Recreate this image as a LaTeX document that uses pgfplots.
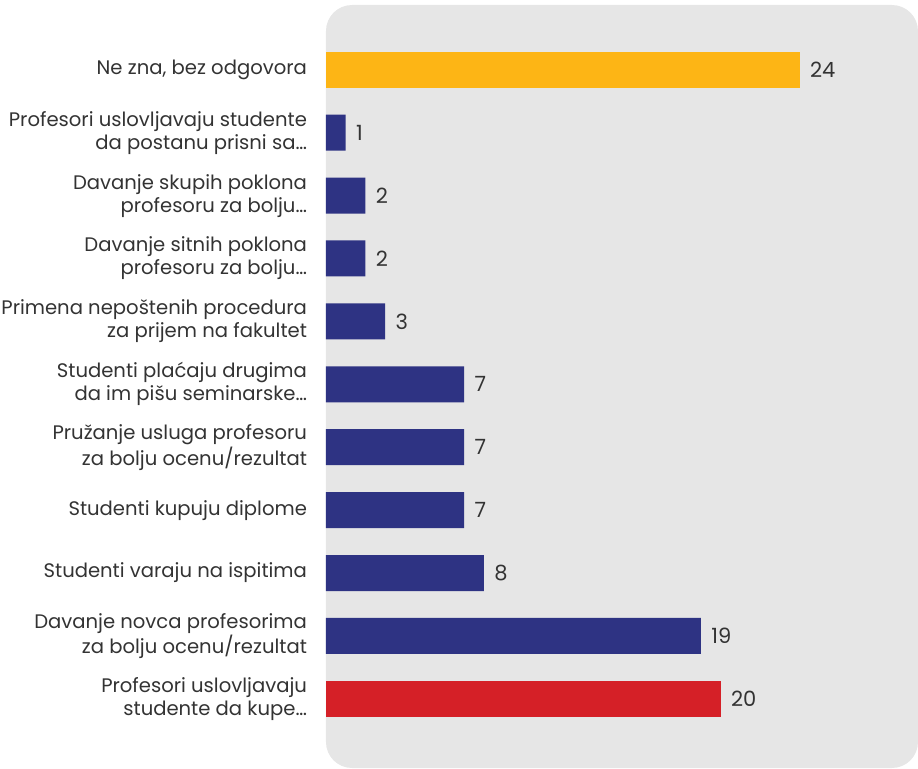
\documentclass[border=0pt]{standalone}
\usepackage{pgfplots}
\pgfplotsset{compat=1.18}
\usepackage{fontspec}
\setmainfont{Poppins}
\definecolor{bg}{HTML}{E6E6E6}
\definecolor{navy}{HTML}{2E3383}
\definecolor{yel}{HTML}{FDB515}
\definecolor{red1}{HTML}{D52027}
\definecolor{txt}{HTML}{333333}
\begin{document}
\begin{tikzpicture}
\path[use as bounding box] (-163pt,0pt) rectangle (296pt,384pt);
\begin{axis}[
  at={(0pt,0pt)}, anchor=south west,
  scale only axis,
  width=296pt, height=381.5pt,
  xbar, bar width=18pt, bar shift=0pt,
  xmin=0, xmax=30,
  ymin=-1.1, ymax=11.03,
  axis line style={draw=none},
  axis background/.style={fill=bg, rounded corners=13pt},
  xtick=\empty,
  ytick={0,1,2,3,4,5,6,7,8,9,10},
  yticklabels={
    {Profesori uslovljavaju\\studente da kupe…},
    {Davanje novca profesorima\\za bolju ocenu/rezultat},
    {Studenti varaju na ispitima},
    {Studenti kupuju diplome},
    {Pružanje usluga profesoru\\za bolju ocenu/rezultat},
    {Studenti plaćaju drugima\\da im pišu seminarske…},
    {Primena nepoštenih procedura\\za prijem na fakultet},
    {Davanje sitnih poklona\\profesoru za bolju…},
    {Davanje skupih poklona\\profesoru za bolju…},
    {Profesori uslovljavaju studente\\da postanu prisni sa…},
    {Ne zna, bez odgovora}},
  yticklabel style={align=right, font=\fontsize{9.8}{11.5}\selectfont, text=txt, xshift=-6pt},
  major tick length=0pt,
  point meta=explicit symbolic,
  nodes near coords={\pgfplotspointmeta},
  nodes near coords style={anchor=west, xshift=1.7pt, font=\fontsize{10.5}{12}\selectfont, text=txt},
  every axis plot/.append style={draw=none},
]
\addplot[fill=red1] coordinates {(20,0) [20]};
\addplot[fill=navy] coordinates {(19,1) [19] (8,2) [8] (7,3) [7] (7,4) [7] (7,5) [7] (3,6) [3] (2,7) [2] (2,8) [2] (1,9) [1]};
\addplot[fill=yel] coordinates {(24,10) [24]};
\end{axis}
\end{tikzpicture}
\end{document}
